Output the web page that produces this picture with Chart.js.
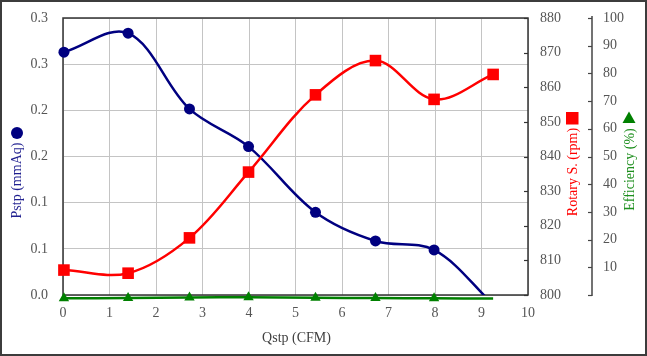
<!DOCTYPE html>
<html>
<head>
<meta charset="utf-8">
<script src="https://cdn.jsdelivr.net/npm/chart.js@4.4.1/dist/chart.umd.min.js"></script>
<style>
  html, body { margin: 0; padding: 0; background: #ffffff; }
  #wrap { position: relative; width: 647px; height: 356px; }
</style>
</head>
<body>
<div id="wrap"><canvas id="c" width="647" height="356"></canvas></div>
<script>
// ---- data ----
const qstp = [0.02, 1.40, 2.72, 3.99, 5.43, 6.72, 7.98, 9.25];
const pstp = [0.263, 0.2835, 0.2015, 0.1607, 0.0896, 0.0585, 0.0488, -0.01];
const rpm  = [807.2, 806.3, 816.5, 835.5, 857.8, 867.7, 856.5, 863.7];
const eff  = [-1.2, -1.1, -0.9, -0.8, -1.0, -1.1, -1.2, -1.3];

const pstpMarker = [1, 1, 1, 1, 1, 1, 1, 0];
const rpmMarker  = [1, 1, 1, 1, 1, 1, 1, 1];
const effMarker  = [1, 1, 1, 1, 1, 1, 1, 0];

const xTickLabels    = ['0','1','2','3','4','5','6','7','8','9','10'];
const pstpTickLabels = ['0.0','0.1','0.1','0.2','0.2','0.3','0.3'];
const rpmTickLabels  = ['800','810','820','830','840','850','860','870','880'];
const effTickLabels  = ['','10','20','30','40','50','60','70','80','90','100'];

const xTitle    = 'Qstp (CFM)';
const pstpTitle = 'Pstp (mmAq)';
const rpmTitle  = 'Rotary S. (rpm)';
const effTitle  = 'Efficiency (%)';

const NAVY = '#000080', RED = '#ff0000', GREEN = '#008000';
const FONT = "'Liberation Serif', 'Times New Roman', serif";

Chart.defaults.font.family = FONT;
Chart.defaults.font.size = 14;
Chart.defaults.color = '#555555';

function pts(ys) { return qstp.map((x, i) => ({ x: x, y: ys[i] })); }

function fitV(w) {
  return s => { s.width = w; s.paddingTop = 2; s.paddingBottom = 2; };
}

const frame = {
  id: 'frame',
  beforeDatasetsDraw(chart) {
    const ctx = chart.ctx, a = chart.chartArea;
    const y1 = chart.scales.y1, y2 = chart.scales.y2;
    ctx.save();
    ctx.strokeStyle = '#333333';
    ctx.lineWidth = 1.5;
    ctx.strokeRect(a.left, a.top, a.right - a.left, a.bottom - a.top);
    ctx.lineWidth = 1.2;
    y1.ticks.forEach(t => {
      const py = Math.round(y1.getPixelForValue(t.value)) + 0.5;
      ctx.beginPath(); ctx.moveTo(a.right - 4, py); ctx.lineTo(a.right, py); ctx.stroke();
    });
    const ex = y2.left;
    ctx.strokeStyle = '#444444';
    ctx.lineWidth = 1.5;
    ctx.beginPath(); ctx.moveTo(ex, a.top - 2); ctx.lineTo(ex, a.bottom + 1); ctx.stroke();
    ctx.lineWidth = 1.2;
    y2.ticks.forEach(t => {
      const py = Math.round(y2.getPixelForValue(t.value)) + 0.5;
      ctx.beginPath(); ctx.moveTo(ex - 4, py); ctx.lineTo(ex, py); ctx.stroke();
    });
    ctx.restore();
  },
  afterDraw(chart) {
    const ctx = chart.ctx, a = chart.chartArea;
    const W = chart.width, H = chart.height;
    ctx.save();
    ctx.strokeStyle = '#3c3c3c';
    ctx.lineWidth = 2;
    ctx.strokeRect(1, 1, W - 2, H - 2);
    ctx.font = '14px ' + FONT;
    ctx.textAlign = 'center';
    ctx.textBaseline = 'middle';
    ctx.fillStyle = '#404040';
    ctx.fillText(xTitle, (a.left + a.right) / 2 + 1, 338);
    function vtext(text, x, yc, color) {
      ctx.save();
      ctx.translate(x, yc);
      ctx.rotate(-Math.PI / 2);
      ctx.fillStyle = color;
      ctx.fillText(text, 0, 0);
      ctx.restore();
    }
    vtext(pstpTitle, 17, 180.5, '#1f1f8f');
    ctx.fillStyle = NAVY;
    ctx.beginPath(); ctx.arc(17, 133, 6, 0, Math.PI * 2); ctx.fill();

    vtext(rpmTitle, 573, 172, RED);
    ctx.fillStyle = RED;
    ctx.fillRect(566, 112, 12.5, 12.5);

    vtext(effTitle, 630, 169.5, '#1e8f1e');
    ctx.fillStyle = GREEN;
    ctx.beginPath(); ctx.moveTo(629, 111.5); ctx.lineTo(635.5, 123); ctx.lineTo(622.5, 123); ctx.closePath(); ctx.fill();
    ctx.restore();
  }
};

new Chart(document.getElementById('c'), {
  type: 'scatter',
  data: {
    datasets: [
      {
        label: pstpTitle, data: pts(pstp), yAxisID: 'y', showLine: true, order: 3,
        borderColor: NAVY, backgroundColor: NAVY, borderWidth: 2.5, tension: 0.35,
        pointStyle: 'circle', pointRadius: pstpMarker.map(m => m ? 5.5 : 0),
        pointBorderWidth: 0,
        clip: { left: false, top: false, right: false, bottom: 0 }
      },
      {
        label: rpmTitle, data: pts(rpm), yAxisID: 'y1', showLine: true, order: 2,
        borderColor: RED, backgroundColor: RED, borderWidth: 2.5, tension: 0.35,
        pointStyle: 'rect', pointRadius: rpmMarker.map(m => m ? 8.2 : 0),
        pointBorderWidth: 0, clip: false
      },
      {
        label: effTitle, data: pts(eff), yAxisID: 'y2', showLine: true, order: 1,
        borderColor: GREEN, backgroundColor: GREEN, borderWidth: 2.5, tension: 0.35,
        pointStyle: 'triangle', pointRadius: effMarker.map(m => m ? 6 : 0),
        pointBorderWidth: 0, clip: false
      }
    ]
  },
  options: {
    responsive: false,
    animation: false,
    events: [],
    layout: { padding: { top: 18, right: 0, bottom: 0, left: 0 } },
    plugins: { legend: { display: false }, tooltip: { enabled: false } },
    scales: {
      x: {
        type: 'linear', position: 'bottom', min: 0, max: 10,
        ticks: { stepSize: 1, padding: 10, maxRotation: 0, callback: (v, i) => xTickLabels[i] },
        grid: { color: '#c4c4c4', lineWidth: 1, drawTicks: false },
        border: { display: false },
        afterFit: s => { s.height = 61; s.paddingLeft = 2; s.paddingRight = 2; }
      },
      y: {
        type: 'linear', position: 'left', min: 0, max: 0.3,
        ticks: { stepSize: 0.05, padding: 15, callback: (v, i) => pstpTickLabels[i] },
        grid: { color: '#c4c4c4', lineWidth: 1, drawTicks: false },
        border: { display: false },
        afterFit: fitV(63)
      },
      y1: {
        type: 'linear', position: 'right', min: 800, max: 880,
        ticks: { stepSize: 10, padding: 12, callback: (v, i) => rpmTickLabels[i] },
        grid: { display: false, drawTicks: false },
        border: { display: false },
        afterFit: fitV(64)
      },
      y2: {
        type: 'linear', position: 'right', min: 0, max: 100,
        ticks: { stepSize: 10, padding: 11, callback: (v, i) => effTickLabels[i] },
        grid: { display: false, drawTicks: false },
        border: { display: false },
        afterFit: fitV(55)
      }
    }
  },
  plugins: [frame]
});
</script>
</body>
</html>
